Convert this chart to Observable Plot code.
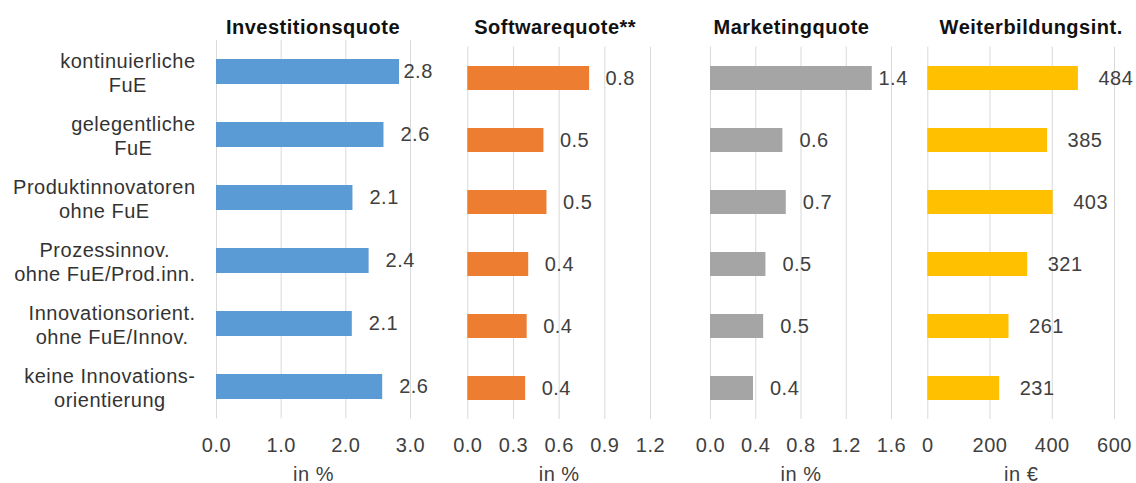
<!DOCTYPE html>
<html>
<head>
<meta charset="utf-8">
<script src="https://cdn.jsdelivr.net/npm/d3@7"></script>
<script src="https://cdn.jsdelivr.net/npm/@observablehq/plot@0.6"></script>
<style>
  body { margin: 0; background: #fff; }
  #chart { position: relative; width: 1136px; height: 483px; overflow: hidden; background: #fff; }
  #chart svg { position: absolute; top: 0; }
</style>
</head>
<body>
<div id="chart"></div>
<script>
// ---- data ----
const categories = [
  "kontinuierliche\nFuE",
  "gelegentliche\nFuE",
  "Produktinnovatoren\nohne FuE",
  "Prozessinnov.\nohne FuE/Prod.inn.",
  "Innovationsorient.\nohne FuE/Innov.",
  "keine Innovations-\norientierung"
];
const investitionsquote = [2.83, 2.59, 2.11, 2.36, 2.10, 2.57];
const softwarequote     = [0.80, 0.50, 0.52, 0.40, 0.39, 0.38];
const marketingquote    = [1.43, 0.64, 0.67, 0.49, 0.47, 0.38];
const weiterbildung     = [484, 385, 403, 321, 261, 231];

const titles = ["Investitionsquote", "Softwarequote**", "Marketingquote", "Weiterbildungsint."];
const unitLabels = ["in %", "in %", "in %", "in €"];
const ticks1 = [0, 1, 2, 3];
const ticks2 = [0, 0.3, 0.6, 0.9, 1.2];
const ticks3 = [0, 0.4, 0.8, 1.2, 1.6];
const ticks4 = [0, 200, 400, 600];
const colors = ["#5B9BD5", "#ED7D31", "#A5A5A5", "#FFC000"];

// ---- layout ----
const H = 483;
const FONT = "'Liberation Sans', Arial, Helvetica, sans-serif";
const panels = [
  {values: investitionsquote, ticks: ticks1, fmt: d3.format(".1f"), left: 0,   width: 440, ml: 216,  mr: 30, mt: 40,   mb: 64.7, titleDx: -0.5, gap: 16.5, limit: 403},
  {values: softwarequote,     ticks: ticks2, fmt: d3.format(".1f"), left: 440, width: 230, ml: 27.3, mr: 20, mt: 46.7, mb: 64,   titleDx: -4,   gap: 16,   limit: Infinity},
  {values: marketingquote,    ticks: ticks3, fmt: d3.format(".1f"), left: 690, width: 230, ml: 20,   mr: 29, mt: 46.7, mb: 64,   titleDx: -9.5, gap: 16.5, limit: 878},
  {values: weiterbildung,     ticks: ticks4, fmt: d3.format("d"),   left: 920, width: 216, ml: 7.3,  mr: 22, mt: 46.7, mb: 64,   titleDx: 10,   gap: 20,   limit: Infinity}
];

// text measurement for centred multi-line category labels
const ctx = document.createElement("canvas").getContext("2d");
ctx.font = "20px " + FONT;
const textW = s => ctx.measureText(s).width + 0.5 * s.length;

const container = document.getElementById("chart");

panels.forEach((p, k) => {
  const data = categories.map((c, i) => ({cat: c, v: p.values[i]}));
  const max = p.ticks[p.ticks.length - 1];
  const ppu = (p.width - p.ml - p.mr) / max;
  const x0 = p.left + p.ml;
  const labelX = v => Math.min(v + p.gap / ppu, (p.limit - x0) / ppu);

  const marks = [
    Plot.gridX(p.ticks, {stroke: "#d9d9d9", strokeOpacity: 1, strokeWidth: 1}),
    Plot.axisX(p.ticks, {tickSize: 0, tickPadding: k === 0 ? 19 : 18, tickFormat: p.fmt, fill: "#404040", label: null}),
    Plot.barX(data, {x: "v", y: "cat", fill: colors[k], insetTop: 19, insetBottom: 19}),
    Plot.text(data, {x: d => labelX(d.v), y: "cat", text: d => p.fmt(d.v), textAnchor: "start", lineAnchor: "middle", fill: "#404040"}),
    Plot.text([titles[k]], {frameAnchor: "top", dx: p.titleDx, dy: 33 - p.mt, lineAnchor: "bottom", fontWeight: "bold", fill: "#111"}),
    Plot.text([unitLabels[k]], {frameAnchor: "bottom", dy: 480 - (H - p.mb), lineAnchor: "bottom", fill: "#404040"})
  ];

  if (k === 0) {
    categories.forEach(c => {
      const maxW = d3.max(c.split("\n"), textW);
      const cx = 195 - maxW / 2;
      marks.push(Plot.text([c], {y: d => d, frameAnchor: "left", dx: cx - p.ml, textAnchor: "middle", lineAnchor: "middle", lineHeight: 1.2, fill: "#333"}));
    });
  }

  const svg = Plot.plot({
    width: p.width,
    height: H,
    marginLeft: p.ml,
    marginRight: p.mr,
    marginTop: p.mt,
    marginBottom: p.mb,
    x: {domain: [0, max], axis: null, label: null},
    y: {type: "band", domain: categories, padding: 0, axis: null},
    style: {fontFamily: FONT, fontSize: "20px", letterSpacing: "0.5px", background: "transparent", overflow: "visible", color: "#404040"},
    marks
  });
  svg.style.left = p.left + "px";
  container.appendChild(svg);
});
</script>
</body>
</html>
